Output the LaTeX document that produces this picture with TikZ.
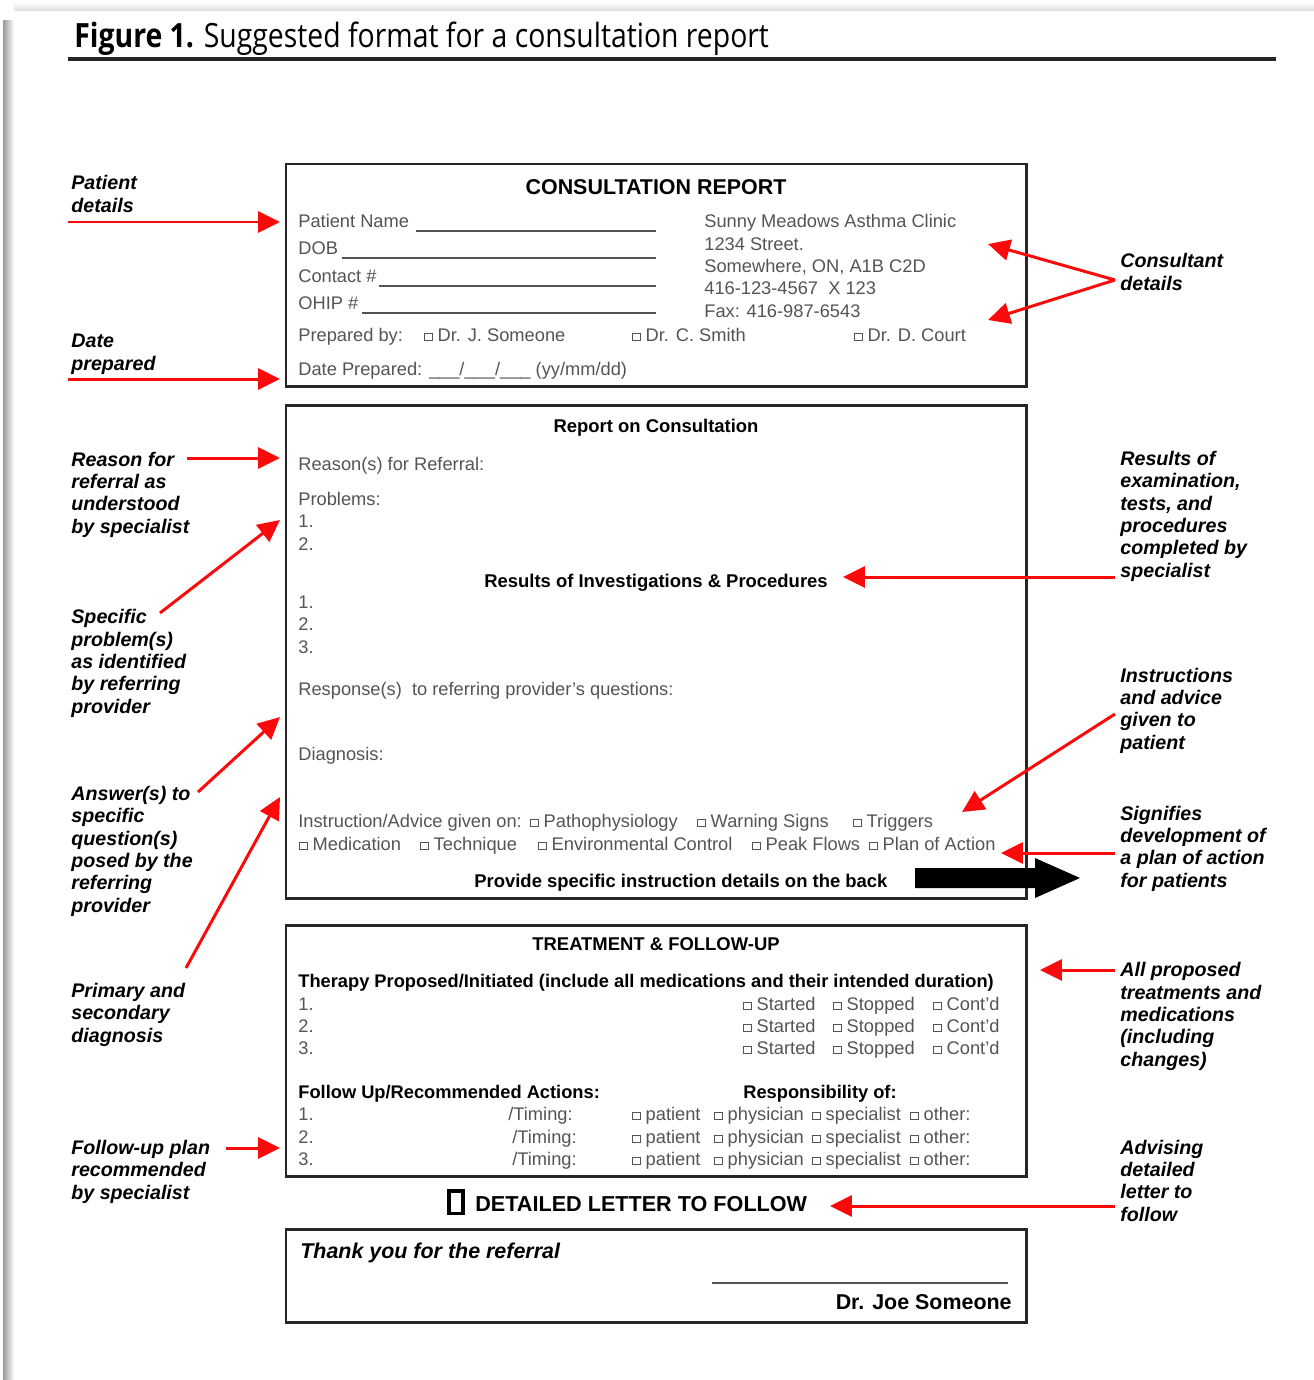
\documentclass[tikz,border=0pt]{standalone}
\usepackage{fontspec}
\setmainfont{Liberation Sans}
\newfontfamily\titlefont[FakeStretch=0.85]{Open Sans}
\usetikzlibrary{arrows.meta}
\definecolor{formgray}{gray}{0.33}
\definecolor{notered}{RGB}{250,10,10}
\newcommand{\ckbox}{\raisebox{0.15ex}{\fboxsep=0pt\fboxrule=0.6pt\fbox{\rule{0pt}{3.4pt}\rule{4pt}{0pt}}}\hspace{2.4pt}}
\tikzset{
  formbox/.style={draw=black!85, line width=1.7pt},
  formline/.style={draw=formgray, line width=1pt},
  formtxt/.style={anchor=base west, inner sep=0pt, text=formgray, align=left,
    font=\fontsize{10.4}{12.7}\selectfont},
  formhead/.style={anchor=base, inner sep=0pt, font=\bfseries\fontsize{10.5}{12}\selectfont},
  formbold/.style={anchor=base west, inner sep=0pt, font=\bfseries\fontsize{10.4}{12}\selectfont},
  note/.style={anchor=base west, inner sep=0pt, align=left,
    font=\bfseries\itshape\fontsize{11.2}{12.7}\selectfont},
  pointer/.style={draw=notered, line width=1.7pt, -{Triangle[length=12.5pt,width=12pt]}}
}
\begin{document}
\begin{tikzpicture}[x=0.02cm,y=-0.02cm]
\useasboundingbox (0,0) rectangle (1314,1380);
\shade[left color=black!40, right color=white] (3,20) rectangle (14,1380);
\shade[top color=white, bottom color=black!12] (14,2) rectangle (1314,10);
% title
\node[anchor=base west, inner sep=0pt, font=\titlefont\fontsize{19}{22}\selectfont] (title) at (74,47)
  {\textbf{Figure 1.} Suggested format for a consultation report};
\draw[line width=2.3pt, black!85] (68,59) -- (1276,59);
% the four boxes of the form
\draw[formbox] (286,164) rectangle (1026,386);
\draw[formbox] (286,405) rectangle (1026,898);
\draw[formbox] (286,925) rectangle (1026,1176);
\draw[formbox] (286,1229) rectangle (1026,1322);
% box 1 (multi-line nodes sit on the baseline of their last line)
\node[formhead, font=\bfseries\fontsize{12.2}{14}\selectfont] (head1) at (656,194) {CONSULTATION REPORT};
\node[formtxt] (pname) at (298,227) {Patient Name};
\node[formtxt] (dob) at (298,254) {DOB};
\node[formtxt] (contact) at (298,282) {Contact \#};
\node[formtxt] (ohip) at (298,309) {OHIP \#};
\draw[formline] (416,231) -- (656,231);
\draw[formline] (342,258) -- (656,258);
\draw[formline] (379,286) -- (656,286);
\draw[formline] (362,313) -- (656,313);
\node[formtxt] (prep) at (298,341) {Prepared by:};
\node[formtxt] (drj) at (424,341) {\ckbox Dr. J. Someone};
\node[formtxt] (drc) at (632,341) {\ckbox Dr. C. Smith};
\node[formtxt] (drd) at (854,341) {\ckbox Dr. D. Court};
\node[formtxt] (date) at (298,375) {Date Prepared: \_\_\_/\_\_\_/\_\_\_ (yy/mm/dd)};
\node[formtxt] (clinic) at (704,317) {Sunny Meadows Asthma Clinic\\1234 Street.\\Somewhere, ON, A1B C2D\\416-123-4567\ \ X 123\\Fax: 416-987-6543};
% box 2
\node[formhead] (head2) at (656,432) {Report on Consultation};
\node[formtxt] (reason) at (298,470) {Reason(s) for Referral:};
\node[formtxt] (probs) at (298,550) {Problems:\\1.\\2.};
\node[formhead] (results) at (656,587) {Results of Investigations \& Procedures};
\node[formtxt] (rlist) at (298,653) {1.\\2.\\3.};
\node[formtxt] (resp) at (298,695) {Response(s)\ \ to referring provider's questions:};
\node[formtxt] (diag) at (298,760) {Diagnosis:};
\node[formtxt] (instr) at (298,827) {Instruction/Advice given on:};
\node[formtxt] (patho) at (530,827) {\ckbox Pathophysiology};
\node[formtxt] (warn) at (697,827) {\ckbox Warning Signs};
\node[formtxt] (trig) at (853,827) {\ckbox Triggers};
\node[formtxt] (medic) at (299,850) {\ckbox Medication};
\node[formtxt] (tech) at (420,850) {\ckbox Technique};
\node[formtxt] (envir) at (538,850) {\ckbox Environmental Control};
\node[formtxt] (peak) at (752,850) {\ckbox Peak Flows};
\node[formtxt] (plan) at (869,850) {\ckbox Plan of Action};
\node[formbold, font=\bfseries\fontsize{10.5}{12}\selectfont] (back) at (474,887) {Provide specific instruction details on the back};
\fill (915,868) -- (1035,868) -- (1035,858) -- (1080,878) -- (1035,898) -- (1035,888) -- (915,888) -- cycle;
% box 3
\node[formhead] (head3) at (656,950) {TREATMENT \& FOLLOW-UP};
\node[formbold] (therapy) at (298,987) {Therapy Proposed/Initiated (include all medications and their intended duration)};
\foreach \r/\y in {1/1010,2/1032,3/1054}{
  \node[formtxt] (tnum\r) at (298,\y) {\r.};
  \node[formtxt] (start\r) at (743,\y) {\ckbox Started};
  \node[formtxt] (stop\r) at (833,\y) {\ckbox Stopped};
  \node[formtxt] (cont\r) at (933,\y) {\ckbox Cont'd};
}
\node[formbold] (follow) at (298,1098) {Follow Up/Recommended Actions:};
\node[formbold] (respons) at (743,1098) {Responsibility of:};
\foreach \r/\y/\tx in {1/1120/508,2/1143/512,3/1165/512}{
  \node[formtxt] (fnum\r) at (298,\y) {\r.};
  \node[formtxt] (timing\r) at (\tx,\y) {/Timing:};
  \node[formtxt] (pat\r) at (632,\y) {\ckbox patient};
  \node[formtxt] (phys\r) at (714,\y) {\ckbox physician};
  \node[formtxt] (spec\r) at (812,\y) {\ckbox specialist};
  \node[formtxt] (other\r) at (910,\y) {\ckbox other:};
}
% letter line and box 4
\node[draw, line width=2.2pt, minimum width=8pt, minimum height=13pt, inner sep=0pt] (tick) at (456,1202) {};
\node[formbold, font=\bfseries\fontsize{12.3}{14}\selectfont] (letter) at (475,1211) {DETAILED LETTER TO FOLLOW};
\node[formbold, font=\bfseries\itshape\fontsize{12.2}{14}\selectfont] (thanks) at (300,1258) {Thank you for the referral};
\draw[formline] (712,1283) -- (1008,1283);
\node[anchor=base east, inner sep=0pt, font=\bfseries\fontsize{12.2}{14}\selectfont] (sign) at (1012,1309) {Dr. Joe Someone};
% notes on the left
\node[note] (npatient) at (71,212) {Patient\\details};
\node[note] (ndate) at (71,370) {Date\\prepared};
\node[note] (nreason) at (71,533) {Reason for\\referral as\\understood\\by specialist};
\node[note] (nproblem) at (71,713) {Specific\\problem(s)\\as identified\\by referring\\provider};
\node[note] (nanswer) at (71,912) {Answer(s) to\\specific\\question(s)\\posed by the\\referring\\provider};
\node[note] (ndiag) at (71,1042) {Primary and\\secondary\\diagnosis};
\node[note] (nfollow) at (71,1199) {Follow-up plan\\recommended\\by specialist};
% notes on the right
\node[note] (nconsult) at (1120,290) {Consultant\\details};
\node[note] (nresults) at (1120,577) {Results of\\examination,\\tests, and\\procedures\\completed by\\specialist};
\node[note] (nadvice) at (1120,749) {Instructions\\and advice\\given to\\patient};
\node[note] (nplan) at (1120,887) {Signifies\\development of\\a plan of action\\for patients};
\node[note] (ntreat) at (1120,1066) {All proposed\\treatments and\\medications\\(including\\changes)};
\node[note] (nletter) at (1120,1221) {Advising\\detailed\\letter to\\follow};
% arrow ends
\coordinate (a1) at (68,222);   \coordinate (b1) at (280,222);
\coordinate (a2) at (68,379);   \coordinate (b2) at (280,379);
\coordinate (a3) at (187,458);  \coordinate (b3) at (280,458);
\coordinate (a4) at (160,613);  \coordinate (b4) at (280,520);
\coordinate (a5) at (198,792);  \coordinate (b5) at (280,717);
\coordinate (a6) at (186,968);  \coordinate (b6) at (280,797);
\coordinate (a7) at (226,1148); \coordinate (b7) at (280,1148);
\coordinate (c1) at (1115,280); \coordinate (d1) at (988,244); \coordinate (d2) at (988,320);
\coordinate (c3) at (1115,577); \coordinate (d3) at (843,577);
\coordinate (c4) at (1115,714); \coordinate (d4) at (962,812);
\coordinate (c5) at (1115,853); \coordinate (d5) at (1001,853);
\coordinate (c6) at (1115,970); \coordinate (d6) at (1040,970);
\coordinate (c7) at (1115,1206); \coordinate (d7) at (830,1206);
\draw[pointer] (a1) -- (b1);
\draw[pointer] (a2) -- (b2);
\draw[pointer] (a3) -- (b3);
\draw[pointer] (a4) -- (b4);
\draw[pointer] (a5) -- (b5);
\draw[pointer] (a6) -- (b6);
\draw[pointer] (a7) -- (b7);
\draw[pointer] (c1) -- (d1);
\draw[pointer] (c1) -- (d2);
\draw[pointer] (c3) -- (d3);
\draw[pointer] (c4) -- (d4);
\draw[pointer] (c5) -- (d5);
\draw[pointer] (c6) -- (d6);
\draw[pointer] (c7) -- (d7);
\end{tikzpicture}
\end{document}
